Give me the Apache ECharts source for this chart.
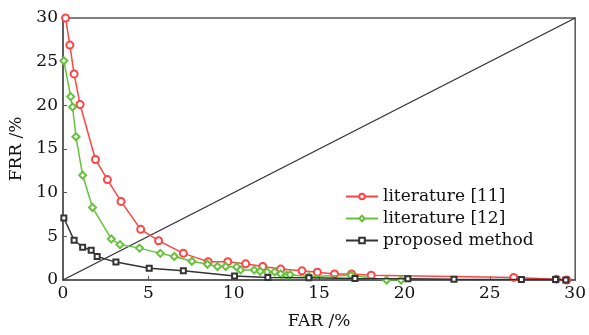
<!DOCTYPE html>
<html><head><meta charset="utf-8">
<script src="https://cdn.jsdelivr.net/npm/echarts@6/dist/echarts.min.js"></script>
<style>html,body{margin:0;padding:0;background:#fff}#c{width:589px;height:335px}</style>
</head><body><div id="c"></div>
<script>
const lit11X = [0.15, 0.4, 0.65, 1.0, 1.9, 2.6, 3.4, 4.55, 5.6, 7.05, 8.5, 9.65, 10.7, 11.7, 12.75, 14.0, 14.9, 15.9, 16.9, 18.05, 26.4, 28.9, 29.5];
const lit11Y = [30, 26.9, 23.6, 20.1, 13.8, 11.5, 9.0, 5.8, 4.5, 3.05, 2.1, 2.1, 1.85, 1.55, 1.25, 1.05, 0.9, 0.7, 0.7, 0.55, 0.3, 0.1, 0.0];
const lit12X = [0.05, 0.45, 0.56, 0.76, 1.15, 1.73, 2.83, 3.34, 4.48, 5.7, 6.52, 7.55, 8.46, 9.05, 9.53, 10.17, 10.4, 11.2, 11.55, 11.96, 12.4, 12.75, 13.1, 13.3, 14.4, 16.87, 18.95, 19.8];
const lit12Y = [25.1, 21.0, 19.8, 16.4, 12.0, 8.3, 4.7, 4.05, 3.65, 3.05, 2.7, 2.15, 1.8, 1.55, 1.55, 1.5, 1.15, 1.15, 1.0, 0.93, 0.93, 0.7, 0.55, 0.6, 0.4, 0.55, 0.0, 0.0];
const propX = [0.05, 0.65, 1.15, 1.65, 2.0, 3.1, 5.05, 7.05, 10.05, 12.0, 14.4, 17.1, 20.2, 22.9, 26.85, 28.85, 29.45];
const propY = [7.1, 4.55, 3.75, 3.4, 2.7, 2.05, 1.35, 1.05, 0.45, 0.3, 0.25, 0.18, 0.15, 0.1, 0.05, 0.05, 0.0];
const diagX = [0, 30];
const diagY = [0, 30];
const seriesNames = ['literature [11]', 'literature [12]', 'proposed method'];
const xName = 'FAR /%';
const yName = 'FRR /%';

const zip = (a, b) => a.map((v, i) => [v, b[i]]);
const font = 'DejaVu Serif';
const chart = echarts.init(document.getElementById('c'));
const axisCommon = {
  type: 'value', min: 0, max: 30, interval: 5,
  nameLocation: 'middle',
  nameTextStyle: { fontFamily: font, fontSize: 17, color: '#111' },
  axisLine: { show: true, lineStyle: { color: '#555', width: 1.5 } },
  axisTick: { show: true, inside: true, length: 4, lineStyle: { color: '#555' } },
  axisLabel: { fontFamily: font, fontSize: 17, color: '#111' },
  splitLine: { show: false }
};
chart.setOption({
  animation: false,
  grid: { left: 63, right: 11, top: 18, bottom: 47, show: true, borderColor: '#555', borderWidth: 1.5 },
  xAxis: Object.assign({}, axisCommon, { name: xName, nameGap: 33, axisLabel: Object.assign({}, axisCommon.axisLabel, { margin: 5 }) }),
  yAxis: Object.assign({}, axisCommon, { name: yName, nameGap: 32, axisLabel: Object.assign({}, axisCommon.axisLabel, { margin: 5 }) }),
  legend: {
    data: seriesNames, orient: 'vertical', left: 340, top: 183,
    itemWidth: 32, itemHeight: 7, itemGap: 5,
    textStyle: { fontFamily: font, fontSize: 17, color: '#111' }
  },
  series: [
    { name: 'diag', type: 'line', data: zip(diagX, diagY), symbol: 'none', silent: true,
      lineStyle: { color: '#333', width: 1.4 }, itemStyle: { color: '#333' }, z: 1 },
    { name: seriesNames[0], type: 'line', data: zip(lit11X, lit11Y), symbol: 'emptyCircle', symbolSize: 7,
      lineStyle: { color: '#ff4444', width: 1.5 }, itemStyle: { color: '#ff4444', borderWidth: 1.2 }, z: 3 },
    { name: seriesNames[1], type: 'line', data: zip(lit12X, lit12Y), symbol: 'emptyDiamond', symbolSize: 7,
      lineStyle: { color: '#66c23a', width: 1.5 }, itemStyle: { color: '#66c23a', borderWidth: 1.5 }, z: 4 },
    { name: seriesNames[2], type: 'line', data: zip(propX, propY), symbol: 'emptyRect', symbolSize: 5,
      lineStyle: { color: '#333', width: 1.5 }, itemStyle: { color: '#333', borderWidth: 1.2 }, z: 5 }
  ]
});
</script></body></html>
